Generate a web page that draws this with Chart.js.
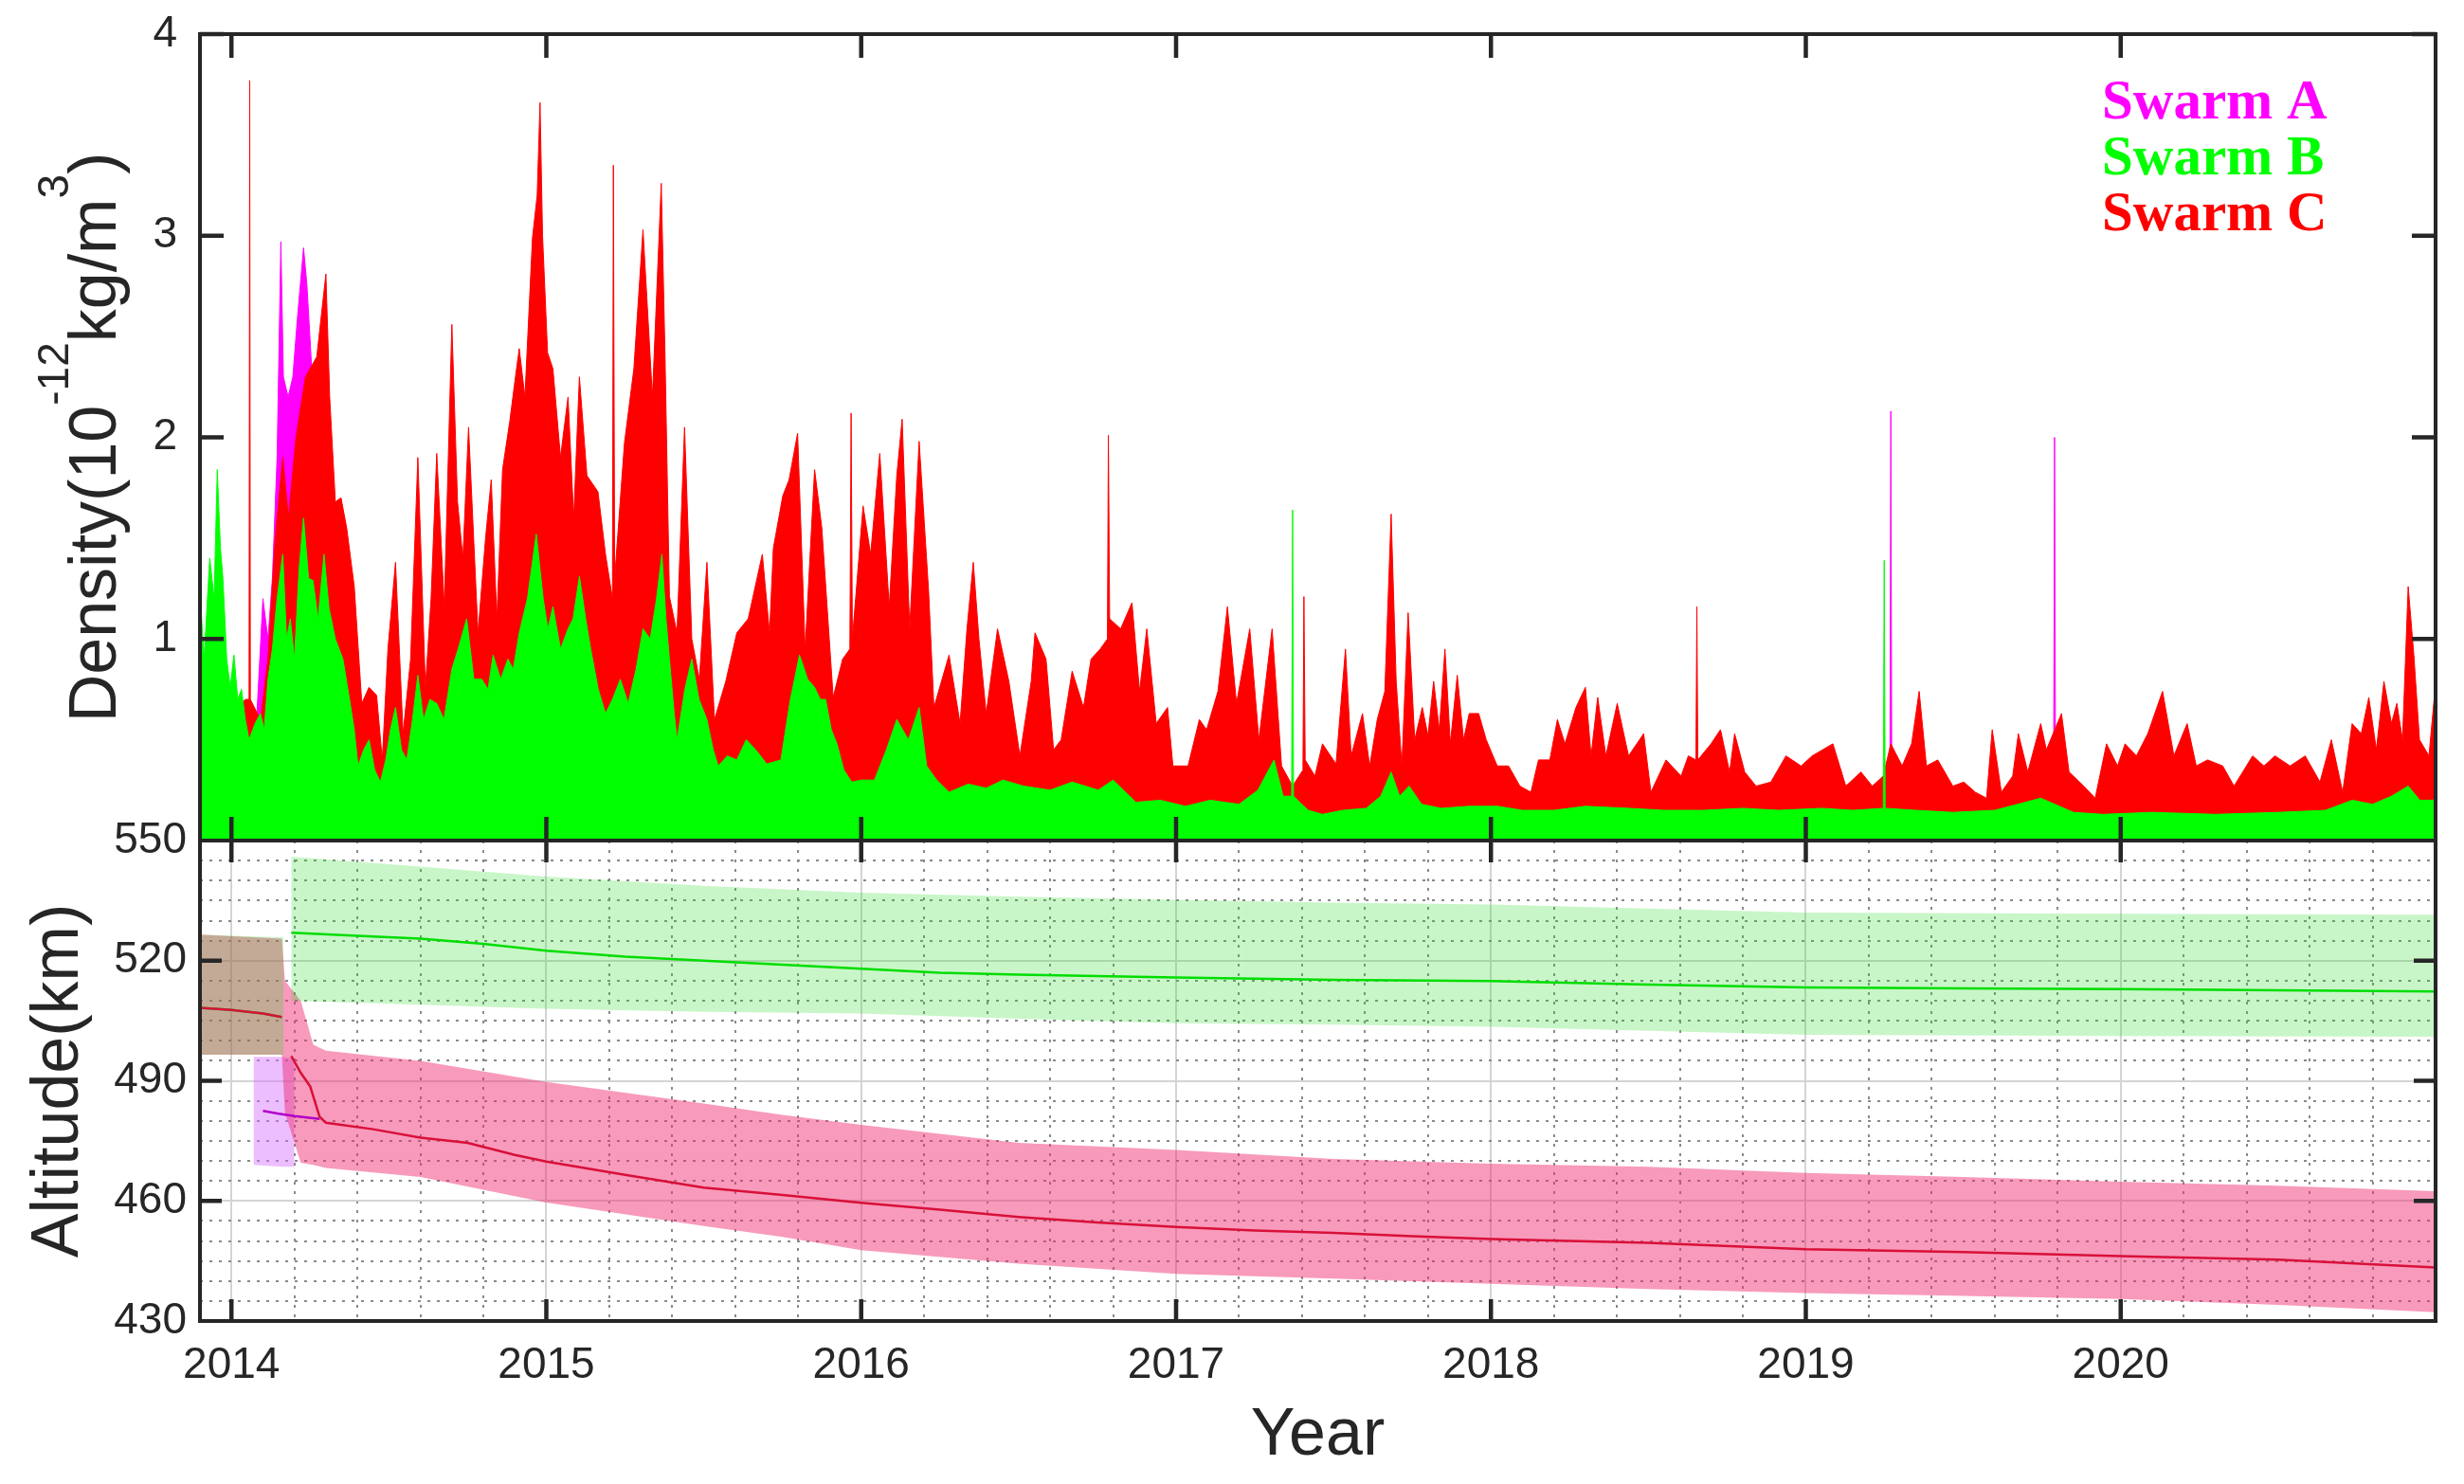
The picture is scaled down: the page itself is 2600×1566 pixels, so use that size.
<!DOCTYPE html>
<html>
<head>
<meta charset="utf-8">
<script src="https://cdn.jsdelivr.net/npm/chart.js@4.4.0/dist/chart.umd.min.js"></script>
<style>
  html, body { margin: 0; padding: 0; background: #ffffff; }
  #wrap { position: relative; width: 2600px; height: 1566px; overflow: hidden; background: #ffffff; }
  canvas { position: absolute; left: 0; }
  #densityChart { top: 0; width: 2600px; height: 917px; }
  #altitudeChart { top: 840px; width: 2600px; height: 726px; }
</style>
</head>
<body>
<div id="wrap">
  <canvas id="densityChart" width="2600" height="917"></canvas>
  <canvas id="altitudeChart" width="2600" height="726"></canvas>
</div>
<script>
// Axis ticks and names
const yearTicks = [2014, 2015, 2016, 2017, 2018, 2019, 2020];
const densityTicks = [1, 2, 3, 4];
const altitudeTicks = [430, 460, 490, 520, 550];
const seriesNames = ['Swarm A', 'Swarm B', 'Swarm C'];

// Swarm A density, upper envelope (null = gap in the trace)
const aTime = [2014.050, 2014.080, 2014.100, 2014.116, 2014.130, 2014.145, 2014.157, 2014.165, 2014.180, 2014.195,
  2014.210, 2014.229, 2014.240, 2014.260, 2014.280, 2014.310, 2014.320, 2019.267, 2019.270, 2019.273,
  2019.500, 2019.787, 2019.790, 2019.793];
const aDensity = [0.4, 0.6, 1.2, 1.0, 1.3, 1.9, 2.97, 2.3, 2.2, 2.3,
  2.6, 2.94, 2.75, 2.2, 1.8, 1.2, null, 0.3, 2.13, 0.3,
  null, 0.3, 2.0, 0.3];

// Swarm B density, upper envelope
const bTime = [2013.903, 2013.913, 2013.931, 2013.945, 2013.955, 2013.965, 2013.973, 2013.985, 2013.996, 2014.008,
  2014.020, 2014.032, 2014.044, 2014.056, 2014.075, 2014.092, 2014.104, 2014.116, 2014.130, 2014.145,
  2014.163, 2014.175, 2014.187, 2014.200, 2014.215, 2014.229, 2014.245, 2014.259, 2014.275, 2014.294,
  2014.310, 2014.330, 2014.354, 2014.375, 2014.390, 2014.402, 2014.420, 2014.437, 2014.455, 2014.473,
  2014.490, 2014.505, 2014.521, 2014.540, 2014.557, 2014.575, 2014.592, 2014.610, 2014.630, 2014.652,
  2014.675, 2014.700, 2014.720, 2014.747, 2014.770, 2014.795, 2014.815, 2014.831, 2014.855, 2014.878,
  2014.895, 2014.914, 2014.940, 2014.968, 2014.990, 2015.005, 2015.021, 2015.045, 2015.069, 2015.085,
  2015.105, 2015.125, 2015.141, 2015.165, 2015.188, 2015.210, 2015.235, 2015.260, 2015.285, 2015.307,
  2015.330, 2015.350, 2015.367, 2015.380, 2015.391, 2015.405, 2015.415, 2015.440, 2015.462, 2015.485,
  2015.510, 2015.530, 2015.546, 2015.575, 2015.605, 2015.635, 2015.665, 2015.700, 2015.745, 2015.775,
  2015.804, 2015.830, 2015.852, 2015.870, 2015.887, 2015.905, 2015.923, 2015.945, 2015.970, 2016.000,
  2016.042, 2016.080, 2016.113, 2016.150, 2016.184, 2016.208, 2016.240, 2016.279, 2016.340, 2016.397,
  2016.450, 2016.516, 2016.600, 2016.670, 2016.753, 2016.800, 2016.872, 2016.950, 2017.030, 2017.109,
  2017.200, 2017.260, 2017.311, 2017.340, 2017.367, 2017.370, 2017.373, 2017.420, 2017.465, 2017.530,
  2017.604, 2017.650, 2017.683, 2017.710, 2017.740, 2017.780, 2017.842, 2017.930, 2018.020, 2018.100,
  2018.199, 2018.300, 2018.437, 2018.550, 2018.675, 2018.800, 2018.913, 2019.050, 2019.150, 2019.246,
  2019.249, 2019.252, 2019.350, 2019.467, 2019.600, 2019.746, 2019.850, 2019.943, 2020.100, 2020.300,
  2020.500, 2020.650, 2020.735, 2020.800, 2020.860, 2020.913, 2020.950, 2021.000];
const bDensity = [1.16, 0.9, 1.4, 1.2, 1.84, 1.45, 1.3, 0.9, 0.76, 0.92,
  0.7, 0.75, 0.6, 0.5, 0.58, 0.63, 0.55, 0.8, 0.95, 1.2,
  1.42, 1.0, 1.1, 0.9, 1.35, 1.6, 1.3, 1.29, 1.1, 1.42,
  1.15, 1.0, 0.9, 0.7, 0.55, 0.37, 0.45, 0.5, 0.35, 0.29,
  0.4, 0.55, 0.66, 0.45, 0.4, 0.6, 0.82, 0.6, 0.7, 0.68,
  0.6, 0.85, 0.95, 1.1, 0.8, 0.8, 0.75, 0.92, 0.8, 0.9,
  0.85, 1.03, 1.2, 1.52, 1.2, 1.05, 1.16, 0.95, 1.05, 1.1,
  1.31, 1.1, 0.95, 0.75, 0.63, 0.7, 0.8, 0.68, 0.85, 1.05,
  1.0, 1.2, 1.42, 1.1, 0.9, 0.65, 0.5, 0.75, 0.9, 0.7,
  0.6, 0.45, 0.37, 0.42, 0.4, 0.5, 0.45, 0.38, 0.4, 0.7,
  0.92, 0.8, 0.76, 0.7, 0.7, 0.55, 0.48, 0.35, 0.29, 0.3,
  0.3, 0.45, 0.6, 0.5, 0.66, 0.37, 0.3, 0.24, 0.28, 0.26,
  0.3, 0.27, 0.25, 0.29, 0.25, 0.3, 0.19, 0.2, 0.17, 0.2,
  0.18, 0.25, 0.4, 0.22, 0.22, 1.64, 0.22, 0.15, 0.13, 0.15,
  0.16, 0.22, 0.34, 0.22, 0.27, 0.18, 0.16, 0.17, 0.17, 0.15,
  0.15, 0.17, 0.16, 0.15, 0.15, 0.16, 0.15, 0.16, 0.15, 0.16,
  1.39, 0.16, 0.15, 0.14, 0.15, 0.21, 0.14, 0.13, 0.14, 0.13,
  0.14, 0.15, 0.2, 0.18, 0.22, 0.27, 0.2, 0.2];

// Swarm C density, upper envelope
const cTime = [2013.903, 2013.955, 2013.996, 2014.044, 2014.056, 2014.058, 2014.060, 2014.092, 2014.116, 2014.139,
  2014.163, 2014.181, 2014.205, 2014.235, 2014.271, 2014.300, 2014.312, 2014.330, 2014.348, 2014.366,
  2014.390, 2014.414, 2014.437, 2014.461, 2014.479, 2014.497, 2014.521, 2014.545, 2014.569, 2014.592,
  2014.616, 2014.634, 2014.652, 2014.676, 2014.700, 2014.718, 2014.735, 2014.753, 2014.783, 2014.807,
  2014.825, 2014.843, 2014.861, 2014.884, 2014.902, 2014.914, 2014.932, 2014.956, 2014.971, 2014.980,
  2014.988, 2015.004, 2015.021, 2015.045, 2015.069, 2015.087, 2015.105, 2015.129, 2015.164, 2015.188,
  2015.210, 2015.213, 2015.217, 2015.248, 2015.278, 2015.307, 2015.337, 2015.365, 2015.377, 2015.391,
  2015.415, 2015.439, 2015.462, 2015.486, 2015.510, 2015.534, 2015.570, 2015.605, 2015.641, 2015.686,
  2015.709, 2015.721, 2015.751, 2015.771, 2015.798, 2015.822, 2015.852, 2015.875, 2015.911, 2015.941,
  2015.964, 2015.968, 2015.972, 2016.006, 2016.030, 2016.059, 2016.089, 2016.113, 2016.130, 2016.154,
  2016.184, 2016.214, 2016.231, 2016.279, 2016.314, 2016.336, 2016.356, 2016.374, 2016.397, 2016.433,
  2016.469, 2016.504, 2016.540, 2016.552, 2016.587, 2016.611, 2016.635, 2016.670, 2016.706, 2016.730,
  2016.759, 2016.782, 2016.785, 2016.789, 2016.824, 2016.860, 2016.884, 2016.907, 2016.937, 2016.973,
  2016.990, 2017.038, 2017.074, 2017.097, 2017.133, 2017.163, 2017.192, 2017.234, 2017.263, 2017.305,
  2017.335, 2017.370, 2017.403, 2017.406, 2017.410, 2017.441, 2017.465, 2017.508, 2017.538, 2017.556,
  2017.592, 2017.615, 2017.639, 2017.663, 2017.683, 2017.699, 2017.717, 2017.737, 2017.758, 2017.782,
  2017.800, 2017.818, 2017.836, 2017.854, 2017.871, 2017.893, 2017.913, 2017.931, 2017.961, 2017.985,
  2018.020, 2018.056, 2018.092, 2018.127, 2018.151, 2018.187, 2018.211, 2018.235, 2018.270, 2018.300,
  2018.318, 2018.339, 2018.365, 2018.401, 2018.437, 2018.485, 2018.508, 2018.556, 2018.604, 2018.627,
  2018.651, 2018.654, 2018.657, 2018.699, 2018.729, 2018.758, 2018.774, 2018.806, 2018.842, 2018.889,
  2018.937, 2018.985, 2019.020, 2019.086, 2019.127, 2019.175, 2019.211, 2019.246, 2019.270, 2019.306,
  2019.336, 2019.360, 2019.383, 2019.419, 2019.467, 2019.502, 2019.538, 2019.574, 2019.592, 2019.621,
  2019.657, 2019.675, 2019.705, 2019.746, 2019.764, 2019.812, 2019.836, 2019.883, 2019.919, 2019.955,
  2019.990, 2020.014, 2020.050, 2020.086, 2020.133, 2020.169, 2020.211, 2020.240, 2020.276, 2020.324,
  2020.360, 2020.419, 2020.455, 2020.490, 2020.538, 2020.586, 2020.633, 2020.669, 2020.705, 2020.735,
  2020.764, 2020.788, 2020.812, 2020.836, 2020.860, 2020.877, 2020.895, 2020.913, 2020.931, 2020.949,
  2020.979, 2020.996, 2021.000];
const cDensity = [0.6, 1.1, 0.6, 0.7, 0.7, 3.77, 0.7, 0.6, 0.9, 1.5,
  1.9, 1.6, 2.0, 2.3, 2.4, 2.81, 2.2, 1.68, 1.7, 1.55,
  1.26, 0.68, 0.76, 0.72, 0.40, 0.95, 1.38, 0.53, 0.9, 1.9,
  0.76, 1.2, 1.92, 1.16, 2.56, 1.68, 1.4, 2.05, 1.03, 1.5,
  1.79, 1.1, 1.84, 2.08, 2.3, 2.44, 2.2, 2.99, 3.2, 3.66,
  3.0, 2.42, 2.34, 1.9, 2.2, 1.6, 2.3, 1.81, 1.73, 1.42,
  1.2, 3.35, 1.3, 1.97, 2.34, 3.03, 2.2, 3.26, 2.4, 1.21,
  1.03, 2.05, 1.0, 0.8, 1.38, 0.6, 0.79, 1.03, 1.1, 1.42,
  1.03, 1.45, 1.71, 1.79, 2.02, 0.95, 1.84, 1.55, 0.71, 0.9,
  0.95, 2.12, 1.0, 1.66, 1.42, 1.92, 1.16, 1.81, 2.09, 1.05,
  1.98, 1.24, 0.66, 0.92, 0.58, 1.05, 1.38, 1.0, 0.63, 1.05,
  0.79, 0.42, 0.79, 1.03, 0.9, 0.45, 0.5, 0.84, 0.66, 0.9,
  0.95, 1.0, 2.01, 1.1, 1.05, 1.18, 0.74, 1.05, 0.58, 0.66,
  0.37, 0.37, 0.6, 0.55, 0.74, 1.16, 0.68, 1.05, 0.5, 1.05,
  0.37, 0.27, 0.35, 1.21, 0.4, 0.32, 0.48, 0.38, 0.95, 0.42,
  0.63, 0.37, 0.6, 0.74, 1.62, 0.79, 0.37, 1.13, 0.5, 0.66,
  0.52, 0.79, 0.55, 0.95, 0.48, 0.82, 0.5, 0.63, 0.63, 0.5,
  0.37, 0.37, 0.27, 0.24, 0.4, 0.4, 0.6, 0.48, 0.66, 0.76,
  0.42, 0.71, 0.42, 0.68, 0.42, 0.53, 0.24, 0.4, 0.32, 0.42,
  0.4, 1.16, 0.4, 0.48, 0.55, 0.34, 0.53, 0.34, 0.27, 0.29,
  0.42, 0.37, 0.42, 0.48, 0.27, 0.34, 0.27, 0.32, 0.48, 0.37,
  0.48, 0.74, 0.37, 0.4, 0.27, 0.29, 0.24, 0.21, 0.55, 0.24,
  0.32, 0.53, 0.34, 0.58, 0.45, 0.63, 0.34, 0.27, 0.21, 0.48,
  0.37, 0.48, 0.42, 0.53, 0.74, 0.42, 0.58, 0.37, 0.4, 0.37,
  0.27, 0.42, 0.37, 0.42, 0.37, 0.42, 0.29, 0.5, 0.24, 0.58,
  0.53, 0.71, 0.45, 0.79, 0.58, 0.68, 0.5, 1.26, 0.92, 0.5,
  0.42, 0.71, 0.6];

// Mean altitude (km)
const aAltTime = [2014.10, 2014.15, 2014.20, 2014.28];
const aAlt = [482.5, 481.8, 481.2, 480.5];
const bAltTime = [2013.9, 2014.0, 2014.1, 2014.16, 2014.17, 2014.19, 2014.4, 2014.6, 2014.8, 2015.0,
  2015.25, 2015.5, 2015.75, 2016.0, 2016.25, 2016.5, 2017.0, 2017.5, 2018.0, 2018.5,
  2019.0, 2019.5, 2020.0, 2020.5, 2021.0];
const bAlt = [508.2, 507.7, 506.8, 505.9, null, 527, 526.2, 525.5, 524.2, 522.5,
  521, 520, 519, 518, 517, 516.5, 515.8, 515.2, 514.9, 514,
  513.3, 513.1, 512.9, 512.6, 512.3];
const cAltTime = [2013.9, 2014.0, 2014.1, 2014.16, 2014.17, 2014.19, 2014.22, 2014.25, 2014.28, 2014.3,
  2014.45, 2014.6, 2014.75, 2014.9, 2015.0, 2015.25, 2015.5, 2015.75, 2016.0, 2016.25,
  2016.5, 2016.75, 2017.0, 2017.25, 2017.5, 2017.75, 2018.0, 2018.5, 2019.0, 2019.5,
  2020.0, 2020.5, 2021.0];
const cAlt = [508.2, 507.7, 506.8, 505.9, null, 496.2, 492, 488.6, 481, 479.5,
  477.9, 475.8, 474.5, 471.5, 469.8, 466.5, 463.3, 461.5, 459.5, 457.8,
  456, 454.6, 453.5, 452.6, 452, 451.2, 450.5, 449.5, 447.9, 447.2,
  446.2, 445.3, 443.4];

// Altitude range (km)
const aBandTime = [2014.07, 2014.16, 2014.2];
const aBandHigh = [496, 496, 495.5];
const aBandLow = [469, 468.5, 468.5];
const bBandTime = [2013.9, 2014.165, 2014.18, 2014.19, 2014.6, 2015.0, 2015.5, 2016.0, 2016.5, 2017.0,
  2017.5, 2018.0, 2018.5, 2019.0, 2020.0, 2021.0];
const bBandHigh = [526.5, 525.8, null, 546, 543.5, 541, 538.7, 537, 536, 535.2,
  534.5, 534, 533, 532, 531.7, 531.5];
const bBandLow = [496.5, 496.5, null, 510, 509, 508, 507.2, 506.8, 505.5, 504.4,
  504, 503.5, 502.5, 501.5, 501.2, 501];
const cBandTime = [2013.9, 2014.16, 2014.17, 2014.22, 2014.26, 2014.3, 2014.6, 2015.0, 2015.5, 2015.75,
  2016.0, 2016.5, 2017.0, 2017.5, 2018.0, 2018.5, 2019.0, 2019.5, 2020.0, 2020.5, 2021.0];
const cBandHigh = [526.5, 525.5, 515, 510, 499, 497.5, 495, 489.7, 484.3, 481.5,
  479, 474.5, 472.7, 470.5, 469.3, 468.5, 467, 466, 464.8, 463.8, 462.4];
const cBandLow = [496.5, 496.5, 482, 469.5, 469, 468.2, 466, 459.6, 453.7, 451,
  447.7, 444.3, 441.8, 440.6, 439.3, 438, 437, 436.3, 435.5, 434, 432.2];

const X_MIN = 2013.9, X_MAX = 2021.0;
const INK = '#262626';
const SANS = '"Liberation Sans", Arial, Helvetica, sans-serif';
const tickFont = { family: SANS, size: 46 };
const titleFont = { family: SANS, size: 70 };
const CLEAR = 'rgba(0,0,0,0)';

const xy = (xs, ys) => xs.map((x, i) => ({ x: x, y: ys[i] }));

// minor grid positions: every 0.2 year and every 5 km
const minorYearTicks = [];
for (let y = 2013; y <= 2020; y++) {
  for (let k = 1; k < 5; k++) {
    const t = y + k / 5;
    if (t > X_MIN && t < X_MAX) minorYearTicks.push(t);
  }
}
const minorAltTicks = [];
for (let v = 435; v < 550; v += 5) {
  if ((v - 430) % 30 !== 0) minorAltTicks.push(v);
}

// box round the plot area plus inward tick marks
const framePlugin = {
  id: 'frame',
  afterDatasetsDraw(chart, args, opts) {
    const { ctx, chartArea: area } = chart;
    const xs = chart.scales.x, ys = chart.scales.y;
    ctx.save();
    ctx.strokeStyle = INK;
    ctx.lineWidth = 4.5;
    ctx.beginPath();
    opts.xTicks.forEach(v => {
      const px = xs.getPixelForValue(v);
      ctx.moveTo(px, area.top);
      ctx.lineTo(px, area.top + opts.tickLength);
      ctx.moveTo(px, area.bottom);
      ctx.lineTo(px, area.bottom - opts.tickLength);
    });
    opts.yTicks.forEach(v => {
      const py = ys.getPixelForValue(v);
      ctx.moveTo(area.left, py);
      ctx.lineTo(area.left + opts.tickLength, py);
      ctx.moveTo(area.right, py);
      ctx.lineTo(area.right - opts.tickLength, py);
    });
    ctx.stroke();
    ctx.lineWidth = 4;
    ctx.strokeRect(area.left, area.top, area.right - area.left, area.bottom - area.top);
    ctx.restore();
  }
};

// coloured text legend, top right
const swarmLegend = {
  id: 'swarmLegend',
  afterDraw(chart, args, opts) {
    const { ctx, chartArea: area } = chart;
    ctx.save();
    ctx.font = 'bold 59px "Liberation Serif", "Times New Roman", serif';
    ctx.textAlign = 'left';
    ctx.textBaseline = 'alphabetic';
    opts.labels.forEach((name, i) => {
      ctx.fillStyle = opts.colors[i];
      ctx.fillText(name, area.right - 352, area.top + 89 + i * 59);
    });
    ctx.restore();
  }
};

// y title with superscripts
const densityTitle = {
  id: 'densityTitle',
  afterDraw(chart, args, opts) {
    const { ctx, chartArea: area } = chart;
    const fontOf = sup => (sup ? opts.supSize : opts.size) + 'px ' + SANS;
    ctx.save();
    ctx.translate(area.left - opts.offset, (area.top + area.bottom) / 2);
    ctx.rotate(-Math.PI / 2);
    ctx.fillStyle = INK;
    ctx.textAlign = 'left';
    ctx.textBaseline = 'alphabetic';
    let total = 0;
    opts.parts.forEach(p => { ctx.font = fontOf(p[1]); total += ctx.measureText(p[0]).width; });
    let pos = -total / 2;
    opts.parts.forEach(p => {
      ctx.font = fontOf(p[1]);
      ctx.fillText(p[0], pos, p[1] ? -opts.raise : 0);
      pos += ctx.measureText(p[0]).width;
    });
    ctx.restore();
  }
};

// Density panel
const densityChart = new Chart(document.getElementById('densityChart'), {
  type: 'line',
  data: {
    datasets: [
      { label: seriesNames[1], data: xy(bTime, bDensity), borderColor: '#00ff00', backgroundColor: '#00ff00', fill: 'origin', order: 0 },
      { label: seriesNames[2], data: xy(cTime, cDensity), borderColor: '#ff0000', backgroundColor: '#ff0000', fill: 'origin', order: 1 },
      { label: seriesNames[0], data: xy(aTime, aDensity), borderColor: '#ff00ff', backgroundColor: '#ff00ff', fill: 'origin', order: 2 }
    ]
  },
  options: {
    responsive: false,
    animation: false,
    events: [],
    elements: { point: { radius: 0 }, line: { borderWidth: 1, tension: 0 } },
    layout: { padding: { top: 36, right: 30, bottom: 30, left: 0 } },
    plugins: {
      legend: { display: false },
      tooltip: { enabled: false },
      frame: { xTicks: yearTicks, yTicks: densityTicks, tickLength: 25 },
      swarmLegend: { labels: seriesNames, colors: ['#ff00ff', '#00ff00', '#ff0000'] },
      densityTitle: {
        parts: [['Density(10', false], ['-12', true], ['kg/m', false], ['3', true], [')', false]],
        size: 70, supSize: 46, raise: 50, offset: 89
      }
    },
    scales: {
      x: {
        type: 'linear', min: X_MIN, max: X_MAX,
        ticks: { display: false },
        grid: { display: false, drawTicks: false },
        border: { display: false },
        afterFit: a => { a.height = 0; }
      },
      y: {
        min: 0, max: 4,
        afterBuildTicks: a => { a.ticks = densityTicks.map(v => ({ value: v })); },
        ticks: { font: tickFont, color: INK, padding: 0, callback: v => String(v) },
        grid: { drawOnChartArea: false, drawTicks: true, tickLength: 24, tickColor: CLEAR },
        border: { display: false },
        afterFit: a => { a.width = 211; }
      }
    }
  },
  plugins: [framePlugin, swarmLegend, densityTitle]
});

// Altitude panel
const altitudeChart = new Chart(document.getElementById('altitudeChart'), {
  type: 'line',
  data: {
    datasets: [
      { label: seriesNames[2], data: xy(cAltTime, cAlt), borderColor: '#d8103a', borderWidth: 2.5, fill: false, order: 0 },
      { label: seriesNames[1], data: xy(bAltTime, bAlt), borderColor: '#00dd00', borderWidth: 2.5, fill: false, order: 1 },
      { label: seriesNames[0], data: xy(aAltTime, aAlt), borderColor: '#b400c8', borderWidth: 2.5, fill: false, order: 2 },
      { label: 'Swarm B range', data: xy(bBandTime, bBandHigh), borderWidth: 0, borderColor: CLEAR, backgroundColor: 'rgba(40,220,40,0.25)', fill: 4, order: 3 },
      { label: 'Swarm B low', data: xy(bBandTime, bBandLow), borderWidth: 0, borderColor: CLEAR, fill: false, order: 4 },
      { label: 'Swarm C range', data: xy(cBandTime, cBandHigh), borderWidth: 0, borderColor: CLEAR, backgroundColor: 'rgba(240,40,110,0.47)', fill: 6, order: 5 },
      { label: 'Swarm C low', data: xy(cBandTime, cBandLow), borderWidth: 0, borderColor: CLEAR, fill: false, order: 6 },
      { label: 'Swarm A range', data: xy(aBandTime, aBandHigh), borderWidth: 0, borderColor: CLEAR, backgroundColor: 'rgba(215,110,255,0.45)', fill: 8, order: 7 },
      { label: 'Swarm A low', data: xy(aBandTime, aBandLow), borderWidth: 0, borderColor: CLEAR, fill: false, order: 8 }
    ]
  },
  options: {
    responsive: false,
    animation: false,
    events: [],
    elements: { point: { radius: 0 }, line: { tension: 0 } },
    layout: { padding: { top: 47, right: 30, bottom: 0, left: 0 } },
    plugins: {
      legend: { display: false },
      tooltip: { enabled: false },
      frame: { xTicks: yearTicks, yTicks: [460, 490, 520], tickLength: 23 }
    },
    scales: {
      x: {
        type: 'linear', min: X_MIN, max: X_MAX,
        afterBuildTicks: a => { a.ticks = yearTicks.map(v => ({ value: v })); },
        ticks: { font: tickFont, color: INK, padding: 0, maxRotation: 0, autoSkip: false, callback: v => String(v) },
        grid: { color: '#d4d4d4', lineWidth: 2, drawTicks: true, tickLength: 20, tickColor: CLEAR },
        border: { display: false },
        title: { display: true, text: 'Year', font: titleFont, color: INK, padding: { top: 0, bottom: 8 } },
        afterFit: a => { a.height = 172; }
      },
      xMinor: {
        type: 'linear', position: 'top', min: X_MIN, max: X_MAX,
        afterBuildTicks: a => { a.ticks = minorYearTicks.map(v => ({ value: v })); },
        ticks: { display: false },
        grid: { color: '#8a8a8a', lineWidth: 2, drawTicks: false },
        border: { display: false, dash: [3, 7] },
        afterFit: a => { a.height = 0; }
      },
      y: {
        min: 430, max: 550,
        afterBuildTicks: a => { a.ticks = altitudeTicks.map(v => ({ value: v })); },
        ticks: { font: tickFont, color: INK, padding: 0, callback: v => String(v) },
        grid: { color: '#d4d4d4', lineWidth: 2, drawTicks: true, tickLength: 14, tickColor: CLEAR },
        border: { display: false },
        title: { display: true, text: 'Altitude(km)', font: titleFont, color: INK, padding: { top: 21, bottom: 0 } },
        afterFit: a => { a.width = 211; }
      },
      yMinor: {
        position: 'right', min: 430, max: 550,
        afterBuildTicks: a => { a.ticks = minorAltTicks.map(v => ({ value: v })); },
        ticks: { display: false },
        grid: { color: '#8a8a8a', lineWidth: 2, drawTicks: false },
        border: { display: false, dash: [3, 7] },
        afterFit: a => { a.width = 0; }
      }
    }
  },
  plugins: [framePlugin]
});
</script>
</body>
</html>
